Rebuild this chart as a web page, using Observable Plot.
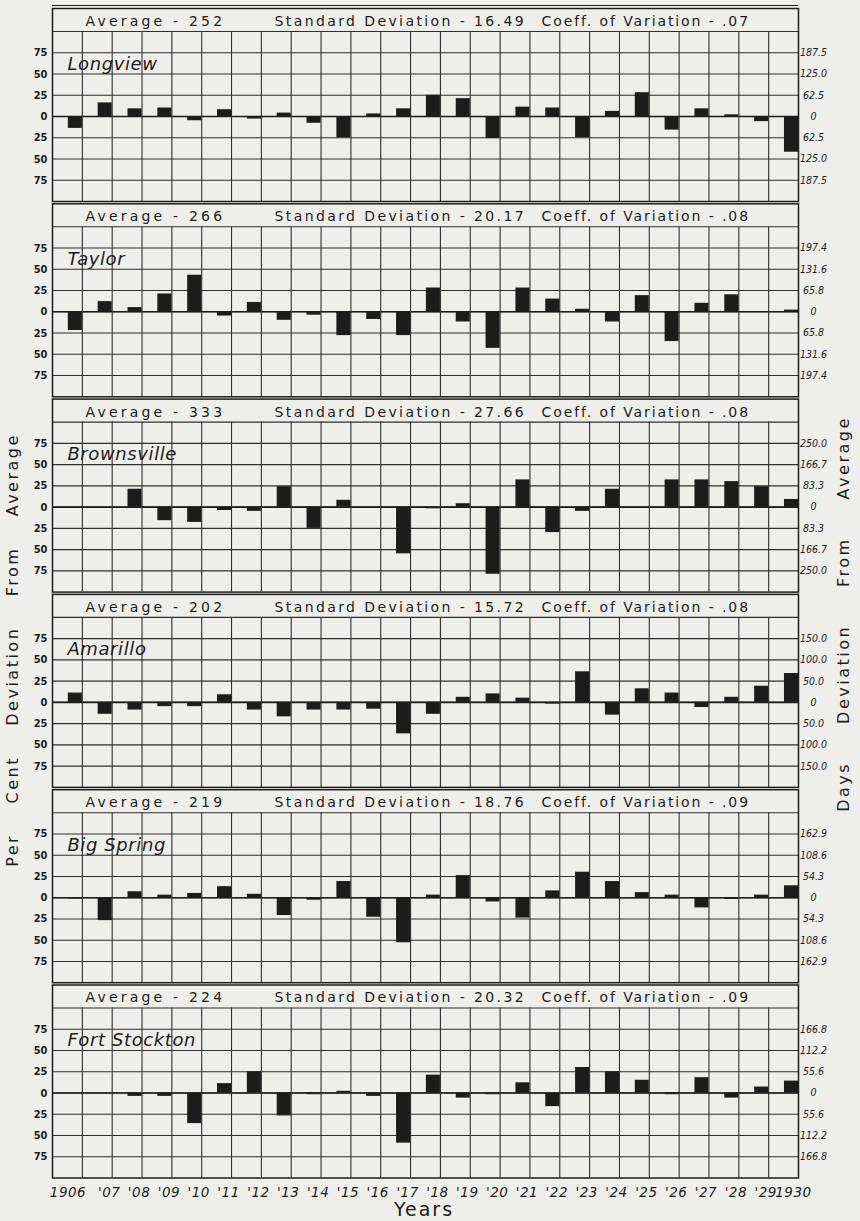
<!DOCTYPE html>
<html>
<head>
<meta charset="utf-8">
<script src="https://cdn.jsdelivr.net/npm/d3@7"></script>
<script src="https://cdn.jsdelivr.net/npm/@observablehq/plot@0.6"></script>
<style>
  html, body { margin: 0; padding: 0; background: #eeeeeb; }
  #chart { width: 860px; height: 1221px; }
  text[aria-label="hdr-avg"] { letter-spacing: 3.2px; }
  text[aria-label="hdr-sd"] { letter-spacing: 2.4px; }
  text[aria-label="hdr-cv"] { letter-spacing: 1.9px; }
  text[aria-label="station-name"] { letter-spacing: 0.6px; }
  text[aria-label="year-label"] { letter-spacing: 0.5px; }
</style>
</head>
<body>
<div id="chart"></div>
<script>
// ---- data ----
const years = [1906, 1907, 1908, 1909, 1910, 1911, 1912, 1913, 1914, 1915, 1916, 1917, 1918,
               1919, 1920, 1921, 1922, 1923, 1924, 1925, 1926, 1927, 1928, 1929, 1930];
const yearLabels = ["1906", "'07", "'08", "'09", "'10", "'11", "'12", "'13", "'14", "'15", "'16", "'17", "'18",
                    "'19", "'20", "'21", "'22", "'23", "'24", "'25", "'26", "'27", "'28", "'29", "1930"];

const stations = ["Longview", "Taylor", "Brownsville", "Amarillo", "Big Spring", "Fort Stockton"];
const averages = ["252", "266", "333", "202", "219", "224"];
const stdDevs = ["16.49", "20.17", "27.66", "15.72", "18.76", "20.32"];
const coeffs = [".07", ".08", ".08", ".08", ".09", ".09"];

// per cent deviation from average, 1906..1930
const longview     = [-14, 16, 9, 10, -5, 8, -3, 4, -8, -25, 3, 9, 25, 21, -26, 11, 10, -25, 6, 28, -16, 9, 2, -6, -42];
const taylor       = [-22, 12, 5, 21, 43, -5, 11, -10, -4, -28, -9, -28, 28, -12, -43, 28, 15, 3, -12, 19, -35, 10, 20, 0, 2];
const brownsville  = [0, 0, 21, -16, -18, -4, -5, 24, -25, 8, 0, -55, -2, 4, -79, 32, -30, -5, 21, 0, 32, 32, 30, 24, 9];
const amarillo     = [11, -14, -9, -5, -5, 9, -9, -17, -9, -9, -8, -37, -14, 6, 10, 5, -2, 36, -15, 16, 11, -6, 6, 19, 34];
const bigSpring    = [-1.5, -27, 7, 3, 5, 13, 4, -21, -3, 19, -23, -53, 3, 26, -5, -24, 8, 30, 19, 6, 3, -12, -2, 3, 14];
const fortStockton = [0, 0, -4, -4, -36, 11, 25, -27, -2, 2, -4, -59, 21, -6, -2, 12, -16, 30, 25, 15, -2, 18, -6, 7, 14];

const tickValues = [75, 50, 25, 0, -25, -50, -75];
const gridLevels = [100, 75, 50, 25, 0, -25, -50, -75];
const daysLongview     = ["187.5", "125.0", "62.5", "0", "62.5", "125.0", "187.5"];
const daysTaylor       = ["197.4", "131.6", "65.8", "0", "65.8", "131.6", "197.4"];
const daysBrownsville  = ["250.0", "166.7", "83.3", "0", "83.3", "166.7", "250.0"];
const daysAmarillo     = ["150.0", "100.0", "50.0", "0", "50.0", "100.0", "150.0"];
const daysBigSpring    = ["162.9", "108.6", "54.3", "0", "54.3", "108.6", "162.9"];
const daysFortStockton = ["166.8", "112.2", "55.6", "0", "55.6", "112.2", "166.8"];

// ---- tables built from the arrays ----
const series = [longview, taylor, brownsville, amarillo, bigSpring, fortStockton];
const daysTicks = [daysLongview, daysTaylor, daysBrownsville, daysAmarillo, daysBigSpring, daysFortStockton];

const bars = stations.flatMap((s, i) => series[i].map((v, j) => ({station: s, year: years[j], value: v})));
const headers = stations.map((s, i) => ({station: s, avg: averages[i], sd: stdDevs[i], cv: coeffs[i]}));
const rightLabels = stations.flatMap((s, i) => daysTicks[i].map((t, j) => ({station: s, y: tickValues[j], label: t})));
const yearRows = years.map((y, i) => ({station: stations[stations.length - 1], year: y, label: yearLabels[i]}));

const ink = "#1c1c1c";
const headerPx = 23, plotPx = 170, stepPx = 195.3;
const yTop = 100 + headerPx * 200 / plotPx;
const gap = (stepPx - headerPx - plotPx) / stepPx;

const chart = Plot.plot({
  width: 860,
  height: 1221,
  marginTop: 8,
  marginBottom: 43.5,
  marginLeft: 52,
  marginRight: 62,
  x: {domain: [1905, 1930], axis: null},
  y: {domain: [-100, yTop], axis: null},
  fy: {domain: stations, axis: null, paddingInner: gap, paddingOuter: 0, round: false},
  style: {background: "#eeeeeb", fontFamily: "DejaVu Sans", color: ink},
  marks: [
    // horizontal grid
    Plot.ruleY(gridLevels, {stroke: "#2e2e2e", strokeWidth: 1.1}),
    Plot.ruleY([0], {stroke: ink, strokeWidth: 1.6}),
    // vertical grid (column dividers)
    Plot.ruleX(years.slice(0, -1), {y1: -100, y2: 100, stroke: "#2e2e2e", strokeWidth: 1.1}),
    // bars occupy the right half of each year's column
    Plot.rect(bars, {x1: d => d.year - 0.47, x2: "year", y1: 0, y2: "value", fy: "station", fill: ink}),
    // panel frames
    Plot.frame({stroke: ink, strokeWidth: 1.5}),
    Plot.ruleY(headers.slice(0, 1), {y: yTop, fy: "station", dy: -3, stroke: ink, strokeWidth: 1.2}),
    // header line
    Plot.text(headers, {fy: "station", frameAnchor: "top-left", dx: 33, dy: 13, lineAnchor: "middle",
      textAnchor: "start", text: d => `Average - ${d.avg}`, fontSize: 14, fill: ink, ariaLabel: () => "hdr-avg"}),
    Plot.text(headers, {fy: "station", frameAnchor: "top-left", dx: 222, dy: 13, lineAnchor: "middle",
      textAnchor: "start", text: d => `Standard Deviation - ${d.sd}`, fontSize: 14, fill: ink, ariaLabel: () => "hdr-sd"}),
    Plot.text(headers, {fy: "station", frameAnchor: "top-left", dx: 489, dy: 13, lineAnchor: "middle",
      textAnchor: "start", text: d => `Coeff. of Variation - ${d.cv}`, fontSize: 14, fill: ink, ariaLabel: () => "hdr-cv"}),
    // station names
    Plot.text(headers, {fy: "station", x: 1905.5, y: 62, text: "station", textAnchor: "start",
      lineAnchor: "middle", fontSize: 18, fontStyle: "italic", fill: ink, ariaLabel: () => "station-name"}),
    // left axis: per cent
    Plot.axisY({ticks: tickValues, tickSize: 0, tickPadding: 5, tickFormat: d => String(Math.abs(d)),
      fontSize: 11, fontWeight: "bold", fontFamily: "DejaVu Sans Condensed", label: null}),
    // right labels: days
    Plot.text(rightLabels, {fy: "station", x: 1930, y: "y", text: "label", dx: 15, textAnchor: "middle",
      fontSize: 10.5, fontStyle: "italic", fontFamily: "DejaVu Sans Condensed", fill: ink}),
    // bottom labels: years (below the last panel)
    Plot.text(yearRows, {fy: "station",
      x: d => d.year - (d.label.length > 3 ? (d.year === years[0] ? 0.48 : 0.17) : 0.1),
      frameAnchor: "bottom", dy: 15, text: "label", textAnchor: "middle", lineAnchor: "middle",
      fontSize: 13.5, fontStyle: "italic", fill: ink, ariaLabel: () => "year-label"})
  ]
});

document.getElementById("chart").appendChild(chart);

const svg = d3.select(chart);
svg.append("text")
  .attr("x", 424).attr("y", 1216)
  .attr("text-anchor", "middle")
  .attr("font-family", "DejaVu Sans").attr("font-size", 19)
  .attr("letter-spacing", 2).attr("fill", ink)
  .text("Years");
svg.append("text")
  .attr("transform", "translate(18,650) rotate(-90)")
  .attr("text-anchor", "middle")
  .attr("font-family", "DejaVu Sans").attr("font-size", 16)
  .attr("letter-spacing", 2.5).attr("fill", ink)
  .attr("style", "white-space: pre")
  .text("Per    Cent    Deviation    From    Average");
svg.append("text")
  .attr("transform", "translate(849,614) rotate(-90)")
  .attr("text-anchor", "middle")
  .attr("font-family", "DejaVu Sans").attr("font-size", 16)
  .attr("letter-spacing", 2.5).attr("fill", ink)
  .attr("style", "white-space: pre")
  .text("Days     Deviation     From     Average");
</script>
</body>
</html>
